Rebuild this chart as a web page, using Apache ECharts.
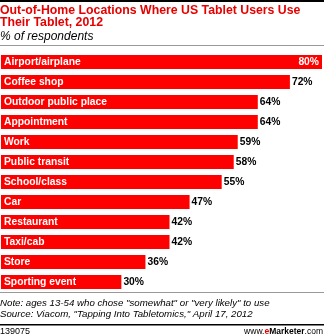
<!DOCTYPE html>
<html><head><meta charset="utf-8">
<script src="https://cdn.jsdelivr.net/npm/echarts@6/dist/echarts.min.js"></script>
<style>html,body{margin:0;padding:0;background:#fff;}#c{width:324px;height:335px;}</style>
</head><body><div id="c"></div>
<script>
var categories = ["Airport/airplane","Coffee shop","Outdoor public place","Appointment","Work","Public transit","School/class","Car","Restaurant","Taxi/cab","Store","Sporting event"];
var values = [80,72,64,64,59,58,55,47,42,42,36,30];
var titleLines = ["Out-of-Home Locations Where US Tablet Users Use","Their Tablet, 2012"];
var subtitle = "% of respondents";
var noteLines = ["Note: ages 13-54 who chose \"somewhat\" or \"very likely\" to use","Source: Viacom, \"Tapping Into Tabletomics,\" April 17, 2012"];
var chartId = "139075";

var ff = "Arial, 'Liberation Sans', sans-serif";
var chart = echarts.init(document.getElementById('c'), null, {renderer:'canvas'});
var maxV = Math.max.apply(null, values);
chart.setOption({
  animation:false,
  grid:{left:1, right:2, top:52, height:240, containLabel:false},
  xAxis:{type:'value', min:0, max:80, show:false},
  yAxis:{type:'category', data:categories, inverse:true, show:false},
  series:[{
    type:'bar', data:values.map(function(v){
      var d={value:v};
      if(v===maxV){ d.label={position:'insideRight', color:'#fff', distance:3}; }
      return d;
    }),
    barCategoryGap:'30%',
    itemStyle:{color:'#ff0000'},
    label:{show:true, position:'right', distance:2, formatter:'{c}%', color:'#000', fontFamily:ff, fontWeight:'bold', fontSize:10.3}
  },{
    type:'bar', data:values.map(function(){return 0;}), barGap:'-100%', barCategoryGap:'30%',
    itemStyle:{color:'transparent'}, silent:true,
    label:{show:true, position:'insideLeft', distance:3, formatter:function(p){return categories[p.dataIndex];}, color:'#fff', fontFamily:ff, fontWeight:'bold', fontSize:10.3}
  }],
  graphic:[
    {type:'rect', shape:{x:0,y:0,width:324,height:2}, style:{fill:'#000'}},
    {type:'text', left:0, top:5, style:{text:titleLines.join('\n'), fill:'#e60000', font:'bold 12.3px '+ff, lineHeight:12}},
    {type:'text', left:0, top:31, style:{text:subtitle, fill:'#000', font:'italic 12px '+ff}},
    {type:'rect', shape:{x:0,y:45,width:324,height:1}, style:{fill:'#999'}},
    {type:'rect', shape:{x:0,y:292,width:324,height:1}, style:{fill:'#999'}},
    {type:'text', left:0, top:298, style:{text:noteLines.join('\n'), fill:'#000', font:'italic 9.7px '+ff, lineHeight:11}},
    {type:'rect', shape:{x:0,y:324,width:324,height:1.5}, style:{fill:'#000'}},
    {type:'text', left:0, top:327, style:{text:chartId, fill:'#000', font:'9px '+ff}},
    {type:'text', right:1, top:327, style:{rich:{a:{fill:'#000', font:'8.5px '+ff},b:{fill:'#e60000', font:'bold 8.5px '+ff},c:{fill:'#000', font:'bold 8.5px '+ff}}, text:'{a|www.}{b|e}{c|Marketer}{a|.com}'}}
  ]
});
</script></body></html>
